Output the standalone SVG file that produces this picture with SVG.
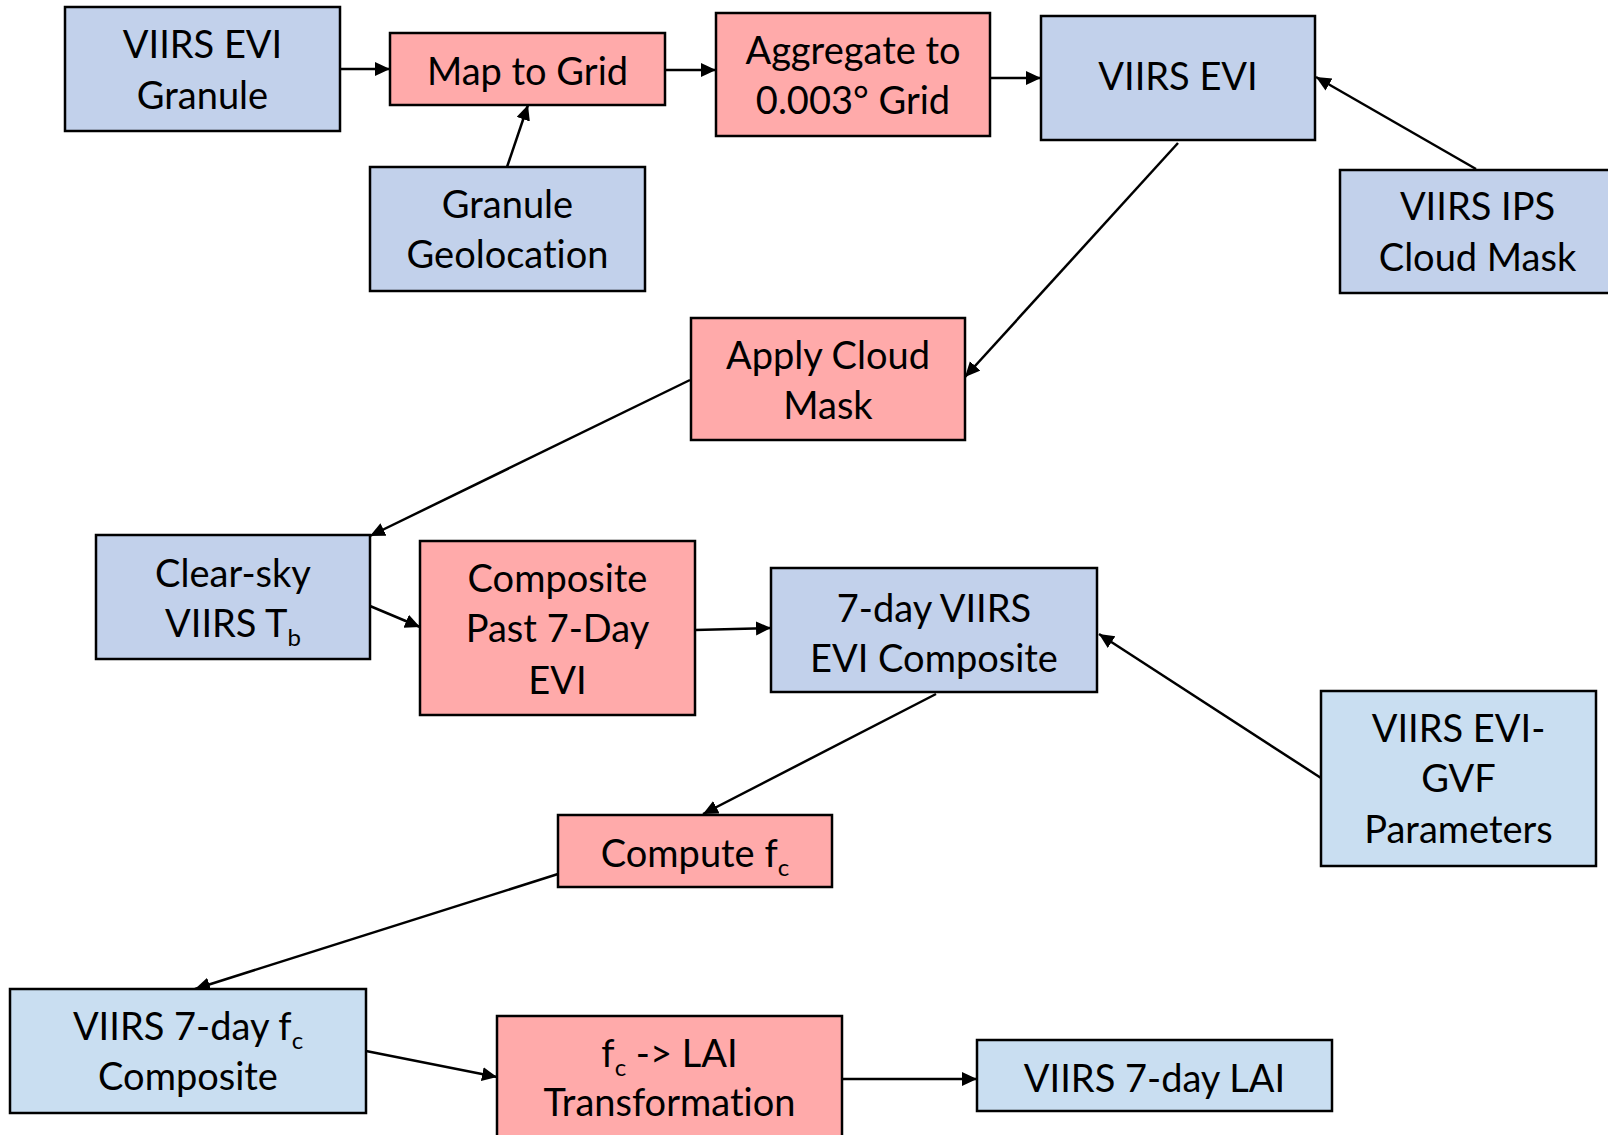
<svg xmlns="http://www.w3.org/2000/svg" width="1608" height="1135" viewBox="0 0 1608 1135">
<style>
.b{fill:#C2D1EB;stroke:#000;stroke-width:2.5}
.lb{fill:#C9DEF1;stroke:#000;stroke-width:2.5}
.p{fill:#FFAAAA;stroke:#000;stroke-width:2.5}
text{font-family:Lato,"Open Sans",sans-serif;font-size:38px;fill:#000;text-anchor:middle;font-variant-ligatures:none;font-feature-settings:"liga" 0}
.sub{font-size:24px}
.c line{stroke:#000;stroke-width:2.5;marker-end:url(#ah)}
</style>
<defs>
<marker id="ah" markerUnits="userSpaceOnUse" markerWidth="18" markerHeight="16" refX="15" refY="7" orient="auto"><path d="M0,0 L15,7 L0,14 z" fill="#000"/></marker>
</defs>
<rect width="1608" height="1135" fill="#fff"/>
<g class="c" id="connectors">
<line x1="340" y1="69" x2="390" y2="69"/>
<line x1="507" y1="167" x2="528" y2="105"/>
<line x1="665" y1="70" x2="716" y2="70"/>
<line x1="990" y1="78" x2="1041" y2="78"/>
<line x1="1476" y1="169" x2="1316" y2="77"/>
<line x1="1178" y1="143" x2="965" y2="377"/>
<line x1="690" y1="380" x2="370" y2="536"/>
<line x1="370" y1="606" x2="420" y2="627"/>
<line x1="695" y1="630" x2="771" y2="628"/>
<line x1="1321" y1="778" x2="1099" y2="634"/>
<line x1="936" y1="694" x2="703" y2="814"/>
<line x1="558" y1="874" x2="195" y2="989"/>
<line x1="366" y1="1051" x2="497" y2="1077"/>
<line x1="842" y1="1079" x2="977" y2="1079"/>
</g>
<g id="n1"><rect class="b" x="65" y="7" width="275" height="124"/><text x="202.5" y="58">VIIRS EVI</text><text x="202.5" y="108.5">Granule</text></g>
<g id="n2"><rect class="p" x="390" y="33" width="275" height="72"/><text x="527.5" y="84.5">Map to Grid</text></g>
<g id="n3"><rect class="b" x="370" y="167" width="275" height="124"/><text x="507.5" y="218">Granule</text><text x="507.5" y="268">Geolocation</text></g>
<g id="n4"><rect class="p" x="716" y="13" width="274" height="123"/><text x="853" y="64">Aggregate to</text><text x="853" y="114">0.003° Grid</text></g>
<g id="n5"><rect class="b" x="1041" y="16" width="274" height="124"/><text x="1178" y="89.5">VIIRS EVI</text></g>
<g id="n6"><rect class="b" x="1340" y="170" width="280" height="123"/><text x="1477.5" y="219.5">VIIRS IPS</text><text x="1477.5" y="270.5">Cloud Mask</text></g>
<g id="n7"><rect class="p" x="691" y="318" width="274" height="122"/><text x="828" y="368.5">Apply Cloud</text><text x="828" y="418.5">Mask</text></g>
<g id="n8"><rect class="b" x="96" y="535" width="274" height="124"/><text x="233" y="586.5">Clear-sky</text><text x="233" y="636.5">VIIRS T<tspan class="sub" dy="9">b</tspan></text></g>
<g id="n9"><rect class="p" x="420" y="541" width="275" height="174"/><text x="557.5" y="592">Composite</text><text x="557.5" y="642">Past 7-Day</text><text x="557.5" y="694">EVI</text></g>
<g id="n10"><rect class="b" x="771" y="568" width="326" height="124"/><text x="934" y="621.5">7-day VIIRS</text><text x="934" y="671.5">EVI Composite</text></g>
<g id="n11"><rect class="lb" x="1321" y="691" width="275" height="175"/><text x="1458.5" y="741.5">VIIRS EVI-</text><text x="1458.5" y="791.5">GVF</text><text x="1458.5" y="843">Parameters</text></g>
<g id="n12"><rect class="p" x="558" y="815" width="274" height="72"/><text x="695" y="866.5">Compute f<tspan class="sub" dy="9">c</tspan></text></g>
<g id="n13"><rect class="lb" x="10" y="989" width="356" height="124"/><text x="188" y="1040">VIIRS 7-day f<tspan class="sub" dy="9">c</tspan></text><text x="188" y="1090">Composite</text></g>
<g id="n14"><rect class="p" x="497" y="1016" width="345" height="130"/><text x="669.5" y="1066.5">f<tspan class="sub" dy="9">c</tspan><tspan dy="-9"> -&gt; LAI</tspan></text><text x="669.5" y="1115.5">Transformation</text></g>
<g id="n15"><rect class="lb" x="977" y="1040" width="355" height="71"/><text x="1154.5" y="1091.5">VIIRS 7-day LAI</text></g>
</svg>
